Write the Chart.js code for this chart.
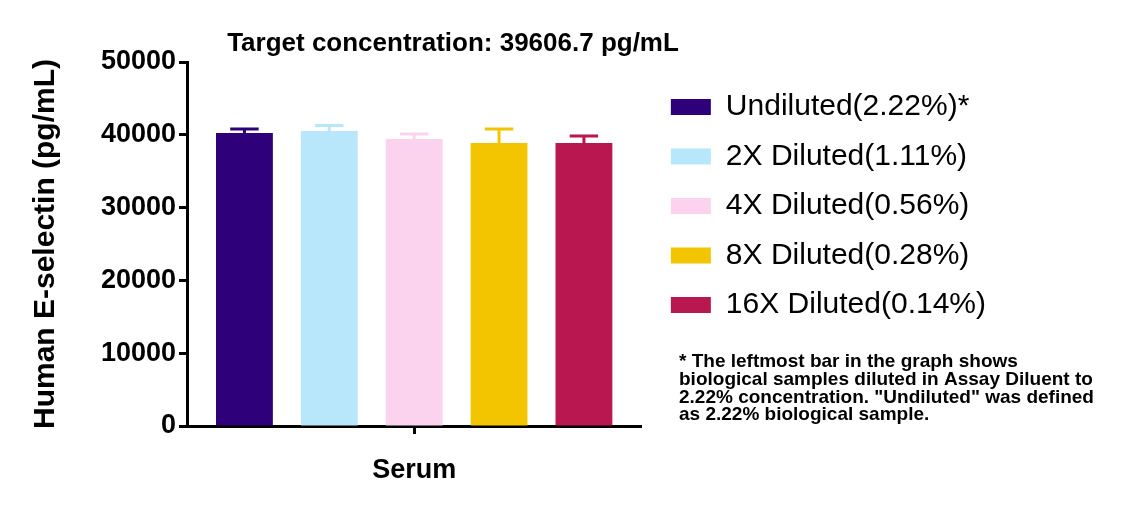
<!DOCTYPE html>
<html>
<head>
<meta charset="utf-8">
<script src="https://cdn.jsdelivr.net/npm/chart.js@4"></script>
<style>
  html, body { margin: 0; padding: 0; background: #fff; }
  #wrap { width: 1134px; height: 507px; position: relative; }
</style>
</head>
<body>
<div id="wrap"><canvas id="serumChart"></canvas></div>
<script>
const categories = ["Serum"];
const seriesNames = [
  "Undiluted(2.22%)*",
  "2X Diluted(1.11%)",
  "4X Diluted(0.56%)",
  "8X Diluted(0.28%)",
  "16X Diluted(0.14%)"
];
const means = [40250, 40520, 39420, 38870, 38870];
const sds = [550, 760, 690, 1930, 960];
const barColors = ["#2e007a", "#b8e6fa", "#fcd3ef", "#f2c500", "#b8174f"];
const yTicks = [0, 10000, 20000, 30000, 40000, 50000];
const chartTitle = "Target concentration: 39606.7 pg/mL";
const footnote = [
  "* The leftmost bar in the graph shows",
  "biological samples diluted in Assay Diluent to",
  "2.22% concentration. \"Undiluted\" was defined",
  "as 2.22% biological sample."
];

const FONT = "Arial, 'Liberation Sans', sans-serif";

// upper error bars (mean + SD) in the bar colour
const errorBars = {
  id: "errorBars",
  afterDatasetsDraw(chart) {
    const ctx = chart.ctx;
    const y = chart.scales.y;
    chart.data.datasets.forEach((ds, i) => {
      const meta = chart.getDatasetMeta(i);
      meta.data.forEach((bar, j) => {
        const top = y.getPixelForValue(ds.data[j] + ds.sd[j]);
        const half = bar.width * 0.25;
        ctx.save();
        ctx.strokeStyle = ds.backgroundColor;
        ctx.lineWidth = 3;
        ctx.beginPath();
        ctx.moveTo(bar.x, bar.y);
        ctx.lineTo(bar.x, top);
        ctx.moveTo(bar.x - half, top);
        ctx.lineTo(bar.x + half, top);
        ctx.stroke();
        ctx.restore();
      });
    });
  }
};

// title above the bars and the note under the legend
const extraText = {
  id: "extraText",
  afterDraw(chart) {
    const ctx = chart.ctx;
    ctx.save();
    ctx.fillStyle = "#000";
    ctx.textBaseline = "middle";
    ctx.textAlign = "center";
    ctx.font = "bold 26px " + FONT;
    ctx.fillText(chartTitle, 453, 44);
    ctx.textAlign = "left";
    ctx.font = "bold 19px " + FONT;
    footnote.forEach((line, i) => {
      ctx.fillText(line, 679, 362 + i * 17.7);
    });
    ctx.restore();
  }
};

const ctx = document.getElementById("serumChart").getContext("2d");

new Chart(ctx, {
  type: "bar",
  data: {
    labels: categories,
    datasets: seriesNames.map((name, i) => ({
      label: name,
      data: [means[i]],
      sd: [sds[i]],
      backgroundColor: barColors[i],
      borderWidth: 0,
      barPercentage: 0.67,
      categoryPercentage: 0.934
    }))
  },
  options: {
    responsive: true,
    maintainAspectRatio: false,
    devicePixelRatio: 1,
    animation: false,
    layout: { padding: { left: 0, right: 138, top: 62, bottom: 0 } },
    plugins: {
      title: { display: false },
      legend: {
        position: "right",
        align: "start",
        maxWidth: 420,
        title: { display: true, text: "", font: { size: 1 }, padding: { top: 9.3, bottom: 0 } },
        labels: {
          color: "#000",
          font: { family: FONT, size: 30 },
          boxWidth: 40,
          boxHeight: 16,
          padding: 19.5
        }
      },
      tooltip: { enabled: false }
    },
    scales: {
      x: {
        grid: { offset: false, drawOnChartArea: false, drawTicks: true, tickLength: 8, tickWidth: 3, tickColor: "#000" },
        border: { display: true, width: 3, color: "#000" },
        ticks: { color: "#000", font: { family: FONT, size: 27, weight: "bold" }, padding: 20 },
        afterFit(scale) { scale.height = 81; }
      },
      y: {
        min: 0,
        max: 50000,
        afterBuildTicks(scale) { scale.ticks = yTicks.map(v => ({ value: v })); },
        grid: { drawOnChartArea: false, drawTicks: true, tickLength: 8, tickWidth: 3, tickColor: "#000" },
        border: { display: true, width: 3, color: "#000" },
        ticks: {
          color: "#000",
          font: { family: FONT, size: 27, weight: "bold" },
          padding: 3,
          callback: v => String(v)
        },
        title: {
          display: true,
          text: "Human E-selectin (pg/mL)",
          color: "#000",
          font: { family: FONT, size: 30, weight: "bold" },
          padding: { top: 28, bottom: 0 }
        },
        afterFit(scale) { scale.width = 187; }
      },
      // empty strip between the plot and the legend
      gap: {
        type: "linear",
        position: "right",
        grid: { display: false },
        border: { display: false },
        ticks: { display: false },
        afterFit(scale) { scale.width = 10; }
      }
    }
  },
  plugins: [errorBars, extraText]
});
</script>
</body>
</html>
